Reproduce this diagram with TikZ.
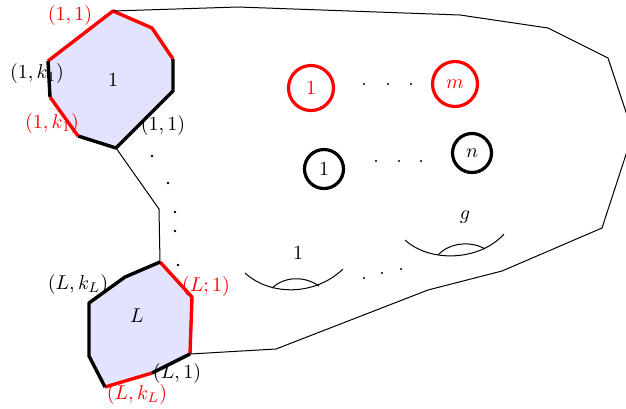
\documentclass[tikz,border=0pt]{standalone}
\usepackage{amsmath, amssymb}
\usepackage{tikz}
\usetikzlibrary{positioning}

\begin{document}
\begin{tikzpicture}[x=0.5pt, y=-0.5pt,
    bnd/.style={line width=1.7pt, line join=round},
    surf/.style={line width=0.5pt, line join=round},
    hole/.style={circle, draw, line width=1.6pt, inner sep=0pt},
    dot/.style={fill=black}]
  \useasboundingbox (0,0) rectangle (626,408);

  % Boundary polygon 1
  \coordinate (a1) at (113,11);
  \coordinate (a2) at (152,28);
  \coordinate (a3) at (173,59);
  \coordinate (a4) at (173,91);
  \coordinate (a5) at (116,148);
  \coordinate (a6) at (78,136);
  \coordinate (a7) at (50,97);
  \coordinate (a8) at (48,61);
  \fill[blue!11] (a1) -- (a2) -- (a3) -- (a4) -- (a5) -- (a6) -- (a7) -- (a8) -- cycle;
  \draw[bnd, red] (a8) -- (a1) -- (a2) -- (a3);
  \draw[bnd] (a3) -- (a4) -- (a5) -- (a6);
  \draw[bnd, red] (a6) -- (a7);
  \draw[bnd] (a7) -- (a8);

  % Boundary polygon L
  \coordinate (b1) at (160,262);
  \coordinate (b2) at (192,297);
  \coordinate (b3) at (190,354);
  \coordinate (b4) at (152,373);
  \coordinate (b5) at (105,387);
  \coordinate (b6) at (89,356);
  \coordinate (b7) at (89,303);
  \coordinate (b8) at (125,277);
  \fill[blue!11] (b1) -- (b2) -- (b3) -- (b4) -- (b5) -- (b6) -- (b7) -- (b8) -- cycle;
  \draw[bnd, red] (b1) -- (b2) -- (b3);
  \draw[bnd] (b3) -- (b4);
  \draw[bnd, red] (b4) -- (b5);
  \draw[bnd] (b5) -- (b6) -- (b7) -- (b8) -- (b1);

  % Outline of the surface
  \draw[surf] (a1) -- (238,7) -- (460,15) -- (548,28) -- (608,58) -- (633,133)
       -- (602,228) -- (502,271) -- (428,290) -- (276,349) -- (b3);
  \draw[surf] (a5) -- (159,209) -- (b1);

  % Dots between boundaries
  \foreach \p in {(152,156),(168,183),(175,212),(175,231),(178,265)}
    \fill[dot] \p circle (0.7pt);

  % Holes
  \node[hole, red, minimum size=22.5pt] (r1) at (311,88) {$1$};
  \node[hole, red, minimum size=22.5pt] (rm) at (455,84) {$m$};
  \node[hole, minimum size=19.5pt] (k1) at (324,169) {$1$};
  \node[hole, minimum size=19.5pt] (kn) at (472,153) {$n$};
  \foreach \x in {364,388,411}
    \fill[dot] (\x,84) circle (0.6pt);
  \foreach \x in {376,399,421}
    \fill[dot] (\x,161) circle (0.6pt);

  % Handles
  \draw[surf] (245,273) .. controls (270,296) and (315,296) .. (343,269);
  \draw[surf] (272,288) .. controls (285,276) and (305,276) .. (319,286);
  \draw[surf] (405,240) .. controls (430,263) and (480,261) .. (504,234);
  \draw[surf] (438,255) .. controls (450,242) and (472,241) .. (485,249);
  \foreach \p in {(364,278),(382,273),(401,269)}
    \fill[dot] \p circle (0.6pt);

  % Labels
  \node (l1) at (113,80) {$1$};
  \node[red] (l11r) at (70,15) {$(1,1)$};
  \node (l1k) at (37,73) {$(1,k_1)$};
  \node[red] (l1kr) at (52,123) {$(1,k_1)$};
  \node (l11) at (163,125) {$(1,1)$};
  \node (lL) at (137,316) {$L$};
  \node (lLk) at (78,284) {$(L,k_L)$};
  \node[red] (lL1r) at (206,286) {$(L;1)$};
  \node (lL1) at (177,373) {$(L,1)$};
  \node[red] (lLkr) at (137,394) {$(L,k_L)$};
  \node (h1) at (298,253) {$1$};
  \node (hg) at (465,217) {$g$};
\end{tikzpicture}
\end{document}
